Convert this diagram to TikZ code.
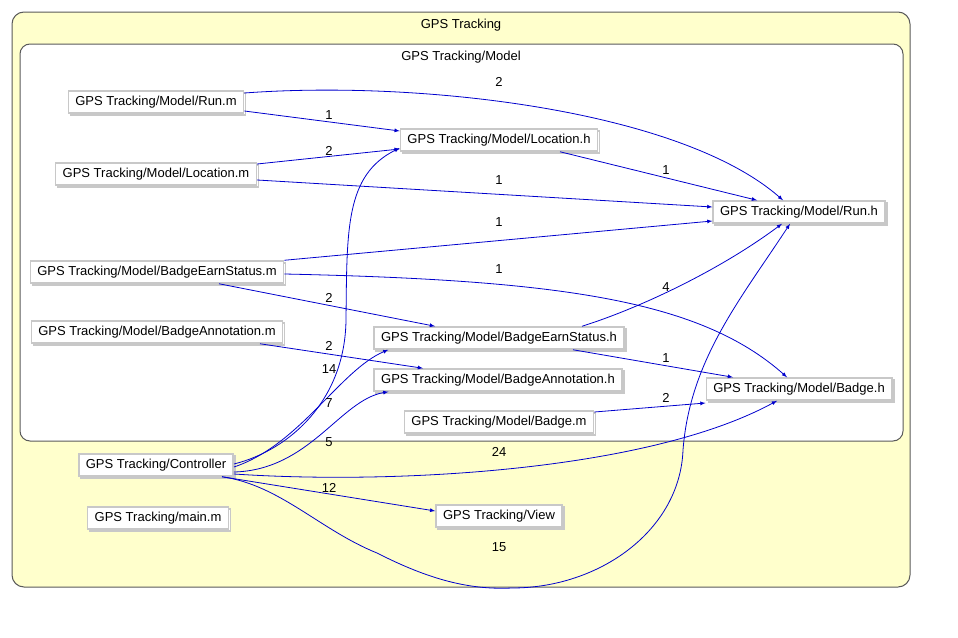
\documentclass[tikz,border=0pt]{standalone}
\usepackage{fontspec}
\setmainfont{Liberation Sans}
\usetikzlibrary{shadows}

\definecolor{clusterfill}{RGB}{255,255,204}
\definecolor{clusterline}{RGB}{90,90,90}
\definecolor{boxline}{RGB}{200,200,200}
\definecolor{edgeblue}{RGB}{0,0,205}

\tikzset{
  file/.style={draw=boxline, line width=1.5pt, fill=white, inner xsep=7pt, inner ysep=0pt,
    minimum height=22pt, font=\fontsize{13}{15}\selectfont,
    copy shadow={shadow xshift=2pt, shadow yshift=-2pt, draw=boxline, fill=white}},
  dep/.style={edgeblue, >=latex, ->, line width=0.8pt},
  num/.style={font=\fontsize{13}{15}\selectfont, inner sep=0pt, text=black},
  cluster/.style={draw=clusterline, line width=1pt},
}

\begin{document}
\begin{tikzpicture}[x=1pt, y=-1pt]
\useasboundingbox (0,0) rectangle (958,637);
\fill[white] (0,0) rectangle (958,637);

% clusters
\draw[cluster, fill=clusterfill, rounded corners=12pt] (12,12) rectangle (910,587);
\node[num] (gps) at (461,25) {GPS Tracking};
\draw[cluster, fill=white, rounded corners=10pt] (20,44) rectangle (903,441);
\node[num] (model) at (461,57) {GPS Tracking/Model};

% files
\node[file] (runm) at (156,102) {GPS Tracking/Model/Run.m};
\node[file] (locm) at (156,174) {GPS Tracking/Model/Location.m};
\node[file] (besm) at (157,272) {GPS Tracking/Model/BadgeEarnStatus.m};
\node[file] (banm) at (157,332) {GPS Tracking/Model/BadgeAnnotation.m};
\node[file] (loch) at (499,140) {GPS Tracking/Model/Location.h};
\node[file] (runh) at (799,212) {GPS Tracking/Model/Run.h};
\node[file] (besh) at (499,338) {GPS Tracking/Model/BadgeEarnStatus.h};
\node[file] (banh) at (498,380) {GPS Tracking/Model/BadgeAnnotation.h};
\node[file] (badgem) at (499,422) {GPS Tracking/Model/Badge.m};
\node[file] (badgeh) at (799,389) {GPS Tracking/Model/Badge.h};
\node[file] (ctrl) at (156,465) {GPS Tracking/Controller};
\node[file] (mainm) at (158,518) {GPS Tracking/main.m};
\node[file] (view) at (499,516) {GPS Tracking/View};

% dependencies
\draw[dep] ([yshift=-9pt]runm.east) -- ([yshift=9pt]loch.west) node[num] at (329,115) {1};
\draw[dep] ([yshift=9pt]runm.east) .. controls (420,80) and (680,110) .. ([xshift=-16pt]runh.north) node[num] at (499,82) {2};
\draw[dep] ([yshift=10pt]locm.east) -- ([yshift=-9pt]loch.west) node[num] at (329,151) {2};
\draw[dep] ([yshift=-6pt]locm.east) -- ([yshift=5pt]runh.west) node[num] at (499,180) {1};
\draw[dep] ([xshift=61pt]loch.south) -- ([xshift=-42pt]runh.north) node[num] at (666,170) {1};
\draw[dep] (besm.north east) -- ([yshift=-9pt]runh.west) node[num] at (499,222) {1};
\draw[dep] ([yshift=-2pt]besm.east) .. controls (560,280) and (700,300) .. ([xshift=-12pt]badgeh.north) node[num] at (499,269) {1};
\draw[dep] ([xshift=62pt]besm.south) -- ([xshift=-64pt]besh.north) node[num] at (329,298) {2};
\draw[dep] ([xshift=83pt]besh.north) .. controls (640,308) and (720,270) .. ([xshift=-17pt]runh.south) node[num] at (666,287) {4};
\draw[dep] ([xshift=103pt]banm.south) -- ([xshift=-75pt]banh.north) node[num] at (329,346) {2};
\draw[dep] ([xshift=74pt]besh.south) -- ([xshift=-66pt]badgeh.north) node[num] at (666,358) {1};
\draw[dep] ([yshift=10pt]badgem.east) -- ([yshift=-14pt]badgeh.west) node[num] at (666,398) {2};
\draw[dep] ([yshift=1pt]ctrl.east) .. controls (290,450) and (345,400) .. (346,320)
  .. controls (347,230) and (345,175) .. ([yshift=-8pt]loch.west) node[num] at (329,369) {14};
\draw[dep] ([yshift=-2pt]ctrl.east) .. controls (300,445) and (340,370) .. ([xshift=15pt]besh.south west) node[num] at (329,403) {7};
\draw[dep] ([yshift=-7pt]ctrl.east) .. controls (310,470) and (340,400) .. ([xshift=15pt]banh.south west) node[num] at (329,442) {5};
\draw[dep] ([yshift=-9pt]ctrl.east) .. controls (400,485) and (650,470) .. ([xshift=-22pt]badgeh.south) node[num] at (499,452) {24};
\draw[dep] ([xshift=66pt]ctrl.south) -- ([yshift=5pt]view.west) node[num] at (329,488) {12};
\draw[dep] ([xshift=66pt]ctrl.south) .. controls (280,485) and (320,530) .. (377,553)
  .. controls (430,580) and (470,590) .. (512,588)
  .. controls (600,588) and (680,530) .. (683,450)
  .. controls (690,360) and (740,300) .. ([xshift=-9pt]runh.south) node[num] at (499,547) {15};
\end{tikzpicture}
\end{document}
